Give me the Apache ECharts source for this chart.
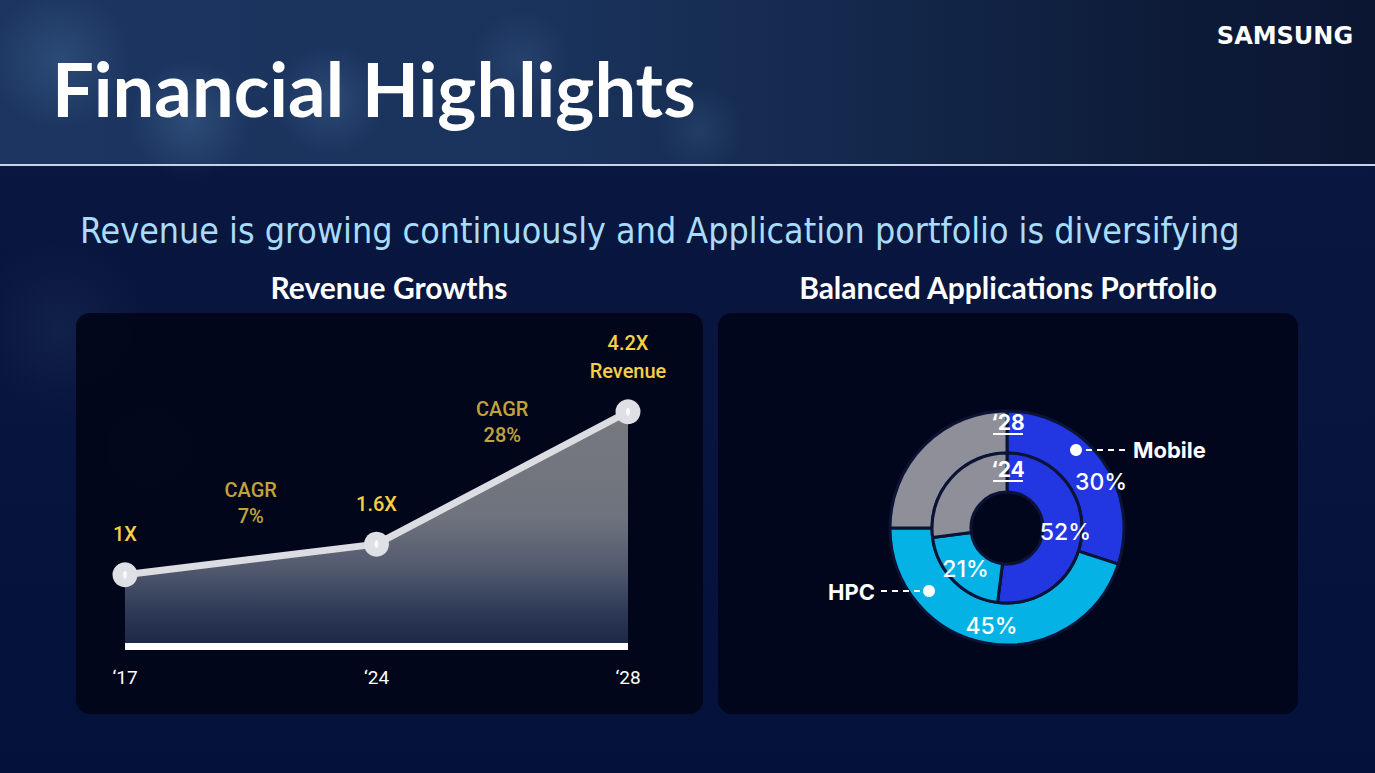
<!DOCTYPE html>
<html><head><meta charset="utf-8">
<script src="https://cdn.jsdelivr.net/npm/echarts@6/dist/echarts.min.js"></script>
<style>html,body{margin:0;padding:0;background:#07143a;overflow:hidden}#c{width:1375px;height:773px}</style>
</head><body><div id="c"></div>
<script>
// ---- data ----
const years = ['\u201817', '\u201824', '\u201828'];
const revenueMultiple = [1, 1.6, 4.2];
const revenueLabels = ['1X', '1.6X', '4.2X\nRevenue'];
const cagrPeriods = ['17-24', '24-28'];
const cagrLabels = ['CAGR\n7%', 'CAGR\n28%'];
const segments = ['Mobile', 'HPC', 'Others'];
const share2028 = [30, 45, 25];
const share2024 = [52, 21, 27];
const ringYears = ['\u201828', '\u201824'];

const chart = echarts.init(document.getElementById('c'), null, {renderer: 'svg'});
const LG = echarts.graphic.LinearGradient;
const RG = echarts.graphic.RadialGradient;
const narrow = "'Liberation Sans Narrow','DejaVu Sans Condensed','Roboto Condensed',Roboto,sans-serif";
const segColors = ['#2236e2', '#04b2e6', '#8e8f98'];

function bokeh(x, y, r, a) {
  return {type: 'circle', shape: {cx: x, cy: y, r: r}, silent: true, z: -9,
    style: {fill: new RG(0.5, 0.5, 0.5, [{offset: 0, color: 'rgba(120,170,220,' + a + ')'}, {offset: 1, color: 'rgba(120,170,220,0)'}])}};
}

const cagrMid = cagrPeriods.map((p, i) => (revenueMultiple[i] + revenueMultiple[i + 1]) / 2);

const option = {
  animation: false,
  grid: {left: 125, right: 747, top: 371, bottom: 127},
  xAxis: [
    {type: 'category', data: years, boundaryGap: false, z: 6,
     axisLine: {onZero: false, lineStyle: {color: '#ffffff', width: 7, cap: 'butt'}},
     axisTick: {show: false}, splitLine: {show: false},
     axisLabel: {color: '#ffffff', fontSize: 19, margin: 22, fontFamily: 'Roboto'}},
    {type: 'category', data: cagrPeriods, boundaryGap: true, show: false}
  ],
  yAxis: {type: 'value', min: -0.4, max: 5, show: false, splitLine: {show: false}},
  series: [
    {type: 'line', data: revenueMultiple.map((v, i) => ({value: v, label: {formatter: revenueLabels[i]}})),
     symbol: 'circle', symbolSize: 25, z: 3,
     lineStyle: {color: '#dcdde2', width: 7},
     itemStyle: {color: '#dfe0e5'},
     label: {show: true, position: 'top', distance: 14, color: '#f5cf45', fontSize: 20, fontWeight: 500, lineHeight: 28, fontFamily: 'Roboto'},
     areaStyle: {origin: 'start', opacity: 1, color: new LG(0, 0, 0, 1, [
       {offset: 0, color: '#76797f'}, {offset: 0.45, color: '#6f737d'}, {offset: 0.66, color: '#545b6f'},
       {offset: 0.86, color: '#2c3855'}, {offset: 1, color: '#1c2747'}])}
    },
    {type: 'scatter', data: revenueMultiple, symbol: 'circle', symbolSize: [4, 8], z: 4, silent: true,
     itemStyle: {color: '#ffffff'}},
    {type: 'scatter', xAxisIndex: 1, data: cagrMid.map((v, i) => ({value: v, label: {formatter: cagrLabels[i]}})),
     symbolSize: 0, silent: true,
     label: {show: true, position: 'top', distance: 30, color: '#f5cf45', fontSize: 20, fontWeight: 500, lineHeight: 26, fontFamily: 'Roboto'}},
    {type: 'pie', center: [1007, 528], radius: [75, 117], startAngle: 90, silent: true, z: 3,
     data: segments.map((n, i) => ({name: n, value: share2028[i], itemStyle: {color: segColors[i]},
       label: i === 0 ? {offset: [14, 12]} : {}})),
     itemStyle: {borderColor: '#0b1436', borderWidth: 3},
     label: {show: true, position: 'inside', color: '#ffffff', fontSize: 23, fontWeight: 500, fontFamily: 'Inter',
       formatter: p => p.dataIndex === 2 ? '' : p.value + '%'},
     labelLine: {show: false}},
    {type: 'pie', center: [1007, 528], radius: [36, 75], startAngle: 90, silent: true, z: 3,
     data: segments.map((n, i) => ({name: n, value: share2024[i], itemStyle: {color: segColors[i]}})),
     itemStyle: {borderColor: '#0b1436', borderWidth: 3},
     label: {show: true, position: 'inside', color: '#ffffff', fontSize: 23, fontWeight: 500, fontFamily: 'Inter',
       formatter: p => p.dataIndex === 2 ? '' : p.value + '%'},
     labelLine: {show: false}}
  ],
  graphic: {elements: [
    {type: 'rect', shape: {x: 0, y: 0, width: 1375, height: 773}, silent: true, z: -10,
     style: {fill: new LG(0, 0, 0, 1, [{offset: 0, color: '#0b1840'}, {offset: 1, color: '#04113a'}])}},
    {type: 'rect', shape: {x: 0, y: 0, width: 1375, height: 165}, silent: true, z: -10,
     style: {fill: new LG(0, 0, 1, 0, [{offset: 0, color: '#1c3661'}, {offset: 0.4, color: '#1a335c'},
       {offset: 0.65, color: '#13274a'}, {offset: 0.85, color: '#0d1b38'}, {offset: 1, color: '#0b1632'}])}},
    bokeh(60, 60, 70, 0.18), bokeh(190, 120, 60, 0.2), bokeh(330, 100, 55, 0.18), bokeh(520, 60, 50, 0.12),
    bokeh(700, 130, 45, 0.12), bokeh(60, 330, 90, 0.08), bokeh(150, 450, 70, 0.06),
    {type: 'rect', shape: {x: 0, y: 164, width: 1375, height: 2}, silent: true, z: -8, style: {fill: '#c5d2ea'}},
    {type: 'rect', shape: {x: 76, y: 313, width: 627, height: 401, r: 14}, silent: true, z: -7,
     style: {fill: 'rgba(1,4,22,0.88)'}},
    {type: 'rect', shape: {x: 718, y: 313, width: 580, height: 401, r: 14}, silent: true, z: -7,
     style: {fill: 'rgba(1,4,22,0.82)'}},
    {type: 'text', x: 52, y: 88, silent: true, z: 10,
     style: {text: 'Financial Highlights', fill: '#ffffff', font: "bold 74px Lato, 'Open Sans', sans-serif",
       verticalAlign: 'middle', align: 'left', shadowColor: 'rgba(0,0,0,0.6)', shadowBlur: 6, shadowOffsetX: 2, shadowOffsetY: 2}},
    {type: 'text', x: 1285, y: 36, silent: true, z: 10,
     style: {text: 'SAMSUNG', fill: '#ffffff', font: "bold 24px 'DejaVu Sans', sans-serif", align: 'center', verticalAlign: 'middle'}},
    {type: 'text', x: 80, y: 230, silent: true, z: 10,
     style: {text: 'Revenue is growing continuously and Application portfolio is diversifying', fill: '#a9dbfa',
       font: '35.5px ' + narrow, align: 'left', verticalAlign: 'middle'}},
    {type: 'text', x: 389, y: 287, silent: true, z: 10,
     style: {text: 'Revenue Growths', fill: '#ffffff', font: "bold 30px Lato, sans-serif", align: 'center', verticalAlign: 'middle'}},
    {type: 'text', x: 1008, y: 287, silent: true, z: 10,
     style: {text: 'Balanced Applications Portfolio', fill: '#ffffff', font: "bold 30px Lato, sans-serif", align: 'center', verticalAlign: 'middle'}},
    // ring year labels
    {type: 'text', x: 1008, y: 422, silent: true, z: 20,
     style: {text: ringYears[0], fill: '#ffffff', font: "bold 21px Inter, sans-serif", align: 'center', verticalAlign: 'middle'}},
    {type: 'line', shape: {x1: 993, y1: 434, x2: 1023, y2: 434}, silent: true, z: 20, style: {stroke: '#ffffff', lineWidth: 2}},
    {type: 'text', x: 1008, y: 469, silent: true, z: 20,
     style: {text: ringYears[1], fill: '#ffffff', font: "bold 21px Inter, sans-serif", align: 'center', verticalAlign: 'middle'}},
    {type: 'line', shape: {x1: 993, y1: 481, x2: 1023, y2: 481}, silent: true, z: 20, style: {stroke: '#ffffff', lineWidth: 2}},
    // callouts
    {type: 'circle', shape: {cx: 1076, cy: 450, r: 6}, silent: true, z: 20, style: {fill: '#ffffff'}},
    {type: 'line', shape: {x1: 1086, y1: 450, x2: 1126, y2: 450}, silent: true, z: 20,
     style: {stroke: '#ffffff', lineWidth: 2, lineDash: [6, 5]}},
    {type: 'text', x: 1133, y: 450, silent: true, z: 20,
     style: {text: segments[0], fill: '#ffffff', font: "bold 22px Inter, sans-serif", align: 'left', verticalAlign: 'middle'}},
    {type: 'circle', shape: {cx: 929, cy: 591, r: 6}, silent: true, z: 20, style: {fill: '#ffffff'}},
    {type: 'line', shape: {x1: 881, y1: 591, x2: 921, y2: 591}, silent: true, z: 20,
     style: {stroke: '#ffffff', lineWidth: 2, lineDash: [6, 5]}},
    {type: 'text', x: 875, y: 592, silent: true, z: 20,
     style: {text: segments[1], fill: '#ffffff', font: "bold 22px Inter, sans-serif", align: 'right', verticalAlign: 'middle'}}
  ]}
};
chart.setOption(option);
</script></body></html>
